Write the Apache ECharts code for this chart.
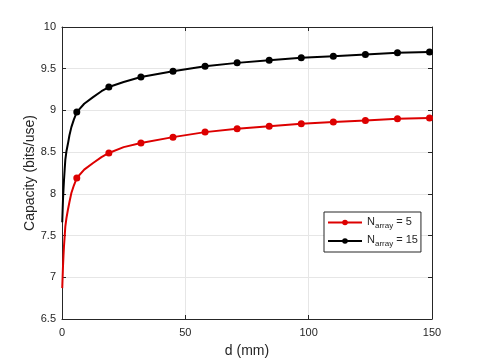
<!DOCTYPE html>
<html>
<head>
<meta charset="utf-8">
<script src="https://cdn.jsdelivr.net/npm/echarts@6/dist/echarts.min.js"></script>
<style>
  html, body { margin: 0; padding: 0; background: #fff; }
  #chart { width: 478px; height: 359px; }
</style>
</head>
<body>
<div id="chart"></div>
<script>
// distance d (mm) of the points
var dValues = [0.1, 0.4, 0.6, 0.8, 1.1, 1.35, 1.8, 2.4, 3.0, 3.8, 4.8, 6, 9, 12.6, 16, 19, 25, 32, 45, 58, 71, 84, 97, 110, 123, 136, 149, 150];
// 1 where the figure shows a marker
var markerAt = [0, 0, 0, 0, 0, 0, 0, 0, 0, 0, 0, 1, 0, 0, 0, 1, 0, 1, 1, 1, 1, 1, 1, 1, 1, 1, 1, 0];
var capArray5 = [6.87, 7.13, 7.26, 7.37, 7.50, 7.61, 7.71, 7.81, 7.90, 8.01, 8.10, 8.19, 8.29, 8.37, 8.44, 8.49, 8.56, 8.61, 8.68, 8.74, 8.78, 8.81, 8.84, 8.86, 8.88, 8.90, 8.91, 8.91];
var capArray15 = [7.66, 7.93, 8.05, 8.16, 8.30, 8.41, 8.51, 8.60, 8.70, 8.80, 8.89, 8.98, 9.08, 9.16, 9.23, 9.28, 9.34, 9.40, 9.47, 9.53, 9.57, 9.60, 9.63, 9.65, 9.67, 9.69, 9.70, 9.70];
var arraySizes = [5, 15];
var lineColors = ['#dd0000', '#000000'];

var font = 'Liberation Sans, Arial, sans-serif';
var ink = '#262626';

function points(ys) {
    return dValues.map(function (d, i) {
        var item = { value: [d, ys[i]] };
        if (!markerAt[i]) {
            item.symbol = 'none';
        }
        return item;
    });
}

function makeSeries(idx, ys) {
    return {
        name: 'N_array = ' + arraySizes[idx],
        type: 'line',
        xAxisIndex: 0,
        yAxisIndex: 0,
        data: points(ys),
        symbol: 'circle',
        symbolSize: 7,
        lineStyle: { color: lineColors[idx], width: 2 },
        itemStyle: { color: lineColors[idx] },
        emphasis: { disabled: true },
        animation: false
    };
}

var chart = echarts.init(document.getElementById('chart'));
chart.setOption({
    animation: false,
    grid: { left: 62, right: 46, top: 27, bottom: 40, outerBoundsMode: 'none' },
    legend: {
        orient: 'vertical',
        left: 324,
        top: 212,
        itemWidth: 34,
        itemHeight: 7,
        itemGap: 5,
        itemTextGap: 3,
        padding: [4, 3, 4, 3],
        borderColor: ink,
        borderWidth: 1,
        backgroundColor: '#fff',
        data: ['N_array = 5', 'N_array = 15'],
        formatter: function (name) {
            return '{n|N}{s|array}{n|' + name.replace('N_array', '') + '}';
        },
        textStyle: {
            color: ink,
            fontFamily: font,
            fontSize: 11,
            rich: {
                n: { fontSize: 11, fontFamily: font, color: ink, padding: [0, 0, 2, 0] },
                s: { fontSize: 8, fontFamily: font, color: ink, padding: [6, 0, 0, 0] }
            }
        }
    },
    xAxis: [{
        type: 'value',
        min: 0,
        max: 150,
        interval: 50,
        name: 'd (mm)',
        nameLocation: 'middle',
        nameGap: 25,
        nameMoveOverlap: false,
        nameTextStyle: { color: ink, fontFamily: font, fontSize: 14 },
        axisLine: { lineStyle: { color: ink, width: 1 } },
        axisTick: { inside: true, length: 4, lineStyle: { color: ink } },
        axisLabel: { color: ink, fontFamily: font, fontSize: 11, margin: 8 },
        splitLine: { show: true, lineStyle: { color: '#e6e6e6', width: 1 } }
    }, {
        type: 'value',
        position: 'top',
        min: 0,
        max: 150,
        interval: 50,
        axisLine: { show: true, onZero: false, lineStyle: { color: ink, width: 1 } },
        axisTick: { show: true, inside: true, length: 4, lineStyle: { color: ink } },
        axisLabel: { show: false },
        splitLine: { show: false }
    }],
    yAxis: [{
        type: 'value',
        min: 6.5,
        max: 10,
        interval: 0.5,
        name: 'Capacity (bits/use)',
        nameLocation: 'middle',
        nameGap: 25,
        nameMoveOverlap: false,
        nameTextStyle: { color: ink, fontFamily: font, fontSize: 14 },
        axisLine: { show: true, lineStyle: { color: ink, width: 1 } },
        axisTick: { show: true, inside: true, length: 4, lineStyle: { color: ink } },
        axisLabel: { color: ink, fontFamily: font, fontSize: 11, margin: 6 },
        splitLine: { show: true, lineStyle: { color: '#e6e6e6', width: 1 } }
    }, {
        type: 'value',
        position: 'right',
        min: 6.5,
        max: 10,
        interval: 0.5,
        axisLine: { show: true, onZero: false, lineStyle: { color: ink, width: 1 } },
        axisTick: { show: true, inside: true, length: 4, lineStyle: { color: ink } },
        axisLabel: { show: false },
        splitLine: { show: false }
    }],
    series: [
        makeSeries(0, capArray5),
        makeSeries(1, capArray15)
    ]
});
</script>
</body>
</html>
